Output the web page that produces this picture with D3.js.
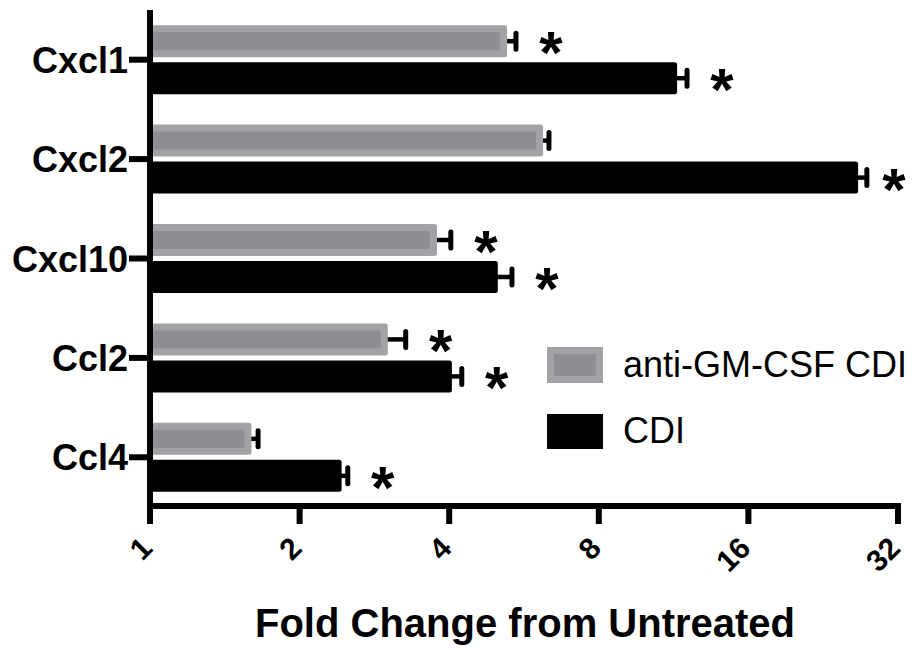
<!DOCTYPE html>
<html>
<head>
<meta charset="utf-8">
<script src="https://cdn.jsdelivr.net/npm/d3@7"></script>
<style>
  html, body { margin: 0; padding: 0; background: #fff; }
  svg { display: block; }
  text { font-family: "Liberation Sans", Arial, Helvetica, sans-serif; }
</style>
</head>
<body>
<svg id="chart" width="919" height="650"></svg>
<script>
// ---- data ----
const categories = ["Cxcl1", "Cxcl2", "Cxcl10", "Ccl2", "Ccl4"];
const antiGMValues = [5.23, 6.18, 3.78, 3.01, 1.60];
const antiGMErrors = [0.22, 0.17, 0.25, 0.26, 0.05];
const antiGMSignificant = [true, false, true, true, false];
const cdiValues = [11.5, 26.6, 5.01, 4.05, 2.43];
const cdiErrors = [0.54, 1.1, 0.34, 0.19, 0.07];
const cdiSignificant = [true, true, true, true, true];
const xTickValues = [1, 2, 4, 8, 16, 32];
const seriesNames = ["anti-GM-CSF CDI", "CDI"];
const xAxisTitle = "Fold Change from Untreated";

// ---- layout ----
const svg = d3.select("#chart");
const x = d3.scaleLog().base(2).domain([1, 32]).range([150, 898]);
const y = d3.scaleBand().domain(categories).range([10, 507]).padding(0);
const grayLight = "#a3a3a7", grayDark = "#8e8d92";
const barH = 32, gap = 2.5, border = 7;

const rows = categories.map((c, i) => ({
  cat: c,
  center: y(c) + y.bandwidth() / 2,
  series: [
    { key: 0, v: antiGMValues[i], e: antiGMErrors[i], sig: antiGMSignificant[i] },
    { key: 1, v: cdiValues[i], e: cdiErrors[i], sig: cdiSignificant[i] }
  ]
}));

const barTop = (r, s) => s.key === 0 ? r.center - gap - barH : r.center + gap;

// bars
const g = svg.append("g");
rows.forEach(r => {
  r.series.forEach(s => {
    const top = barTop(r, s);
    const x0 = x(1), x1 = x(s.v);
    // error bar
    const xe = x(s.v + s.e);
    g.append("line").attr("x1", x1 - 4).attr("x2", xe).attr("y1", top + barH / 2).attr("y2", top + barH / 2)
      .attr("stroke", "#000").attr("stroke-width", 4.5);
    g.append("line").attr("x1", xe).attr("x2", xe).attr("y1", top + barH / 2 - 8).attr("y2", top + barH / 2 + 8)
      .attr("stroke", "#000").attr("stroke-width", 5).attr("stroke-linecap", "round");
    if (s.key === 0) {
      g.append("rect").attr("x", x0).attr("y", top).attr("width", x1 - x0).attr("height", barH)
        .attr("rx", 2.5).attr("fill", grayLight);
      g.append("rect").attr("x", x0).attr("y", top + border).attr("width", Math.max(0, x1 - x0 - border))
        .attr("height", barH - 2 * border).attr("fill", grayDark);
    } else {
      g.append("rect").attr("x", x0).attr("y", top).attr("width", x1 - x0).attr("height", barH)
        .attr("rx", 2.5).attr("fill", "#000");
    }
    if (s.sig) {
      const ax = Math.min(xe + 35, 894);
      g.append("text").attr("x", ax).attr("y", top + barH / 2 + 32)
        .attr("text-anchor", "middle").attr("font-size", 60).attr("font-weight", "bold")
        .attr("fill", "#000").text("*");
    }
  });
});

// y axis
const yAxis = svg.append("g");
yAxis.append("line").attr("x1", 150).attr("x2", 150).attr("y1", 10).attr("y2", 509)
  .attr("stroke", "#000").attr("stroke-width", 6);
rows.forEach(r => {
  yAxis.append("line").attr("x1", 129).attr("x2", 150).attr("y1", r.center).attr("y2", r.center)
    .attr("stroke", "#000").attr("stroke-width", 6);
  yAxis.append("text").attr("x", 128).attr("y", r.center + 13).attr("text-anchor", "end")
    .attr("font-size", 36).attr("font-weight", "bold").attr("fill", "#000").text(r.cat);
});

// x axis
const xAxis = svg.append("g");
xAxis.append("line").attr("x1", 147).attr("x2", 901).attr("y1", 506).attr("y2", 506)
  .attr("stroke", "#000").attr("stroke-width", 6);
xTickValues.forEach(t => {
  const tx = x(t);
  xAxis.append("line").attr("x1", tx).attr("x2", tx).attr("y1", 506).attr("y2", 524)
    .attr("stroke", "#000").attr("stroke-width", 6);
  xAxis.append("text").attr("transform", `translate(${tx + 4},550) rotate(-45)`)
    .attr("text-anchor", "end").attr("font-size", 30).attr("font-weight", "bold")
    .attr("fill", "#000").text(t);
});

svg.append("text").attr("x", 525).attr("y", 637).attr("text-anchor", "middle")
  .attr("font-size", 40).attr("font-weight", "bold").attr("fill", "#000").text(xAxisTitle);

// legend
const leg = svg.append("g");
leg.append("rect").attr("x", 547).attr("y", 347).attr("width", 56).attr("height", 36).attr("fill", grayLight);
leg.append("rect").attr("x", 554).attr("y", 354).attr("width", 42).attr("height", 22).attr("fill", grayDark);
leg.append("rect").attr("x", 547).attr("y", 414).attr("width", 56).attr("height", 35).attr("fill", "#000");
leg.append("text").attr("x", 623).attr("y", 377).attr("font-size", 36).attr("fill", "#000").text(seriesNames[0]);
leg.append("text").attr("x", 623).attr("y", 443).attr("font-size", 36).attr("fill", "#000").text(seriesNames[1]);
</script>
</body>
</html>
